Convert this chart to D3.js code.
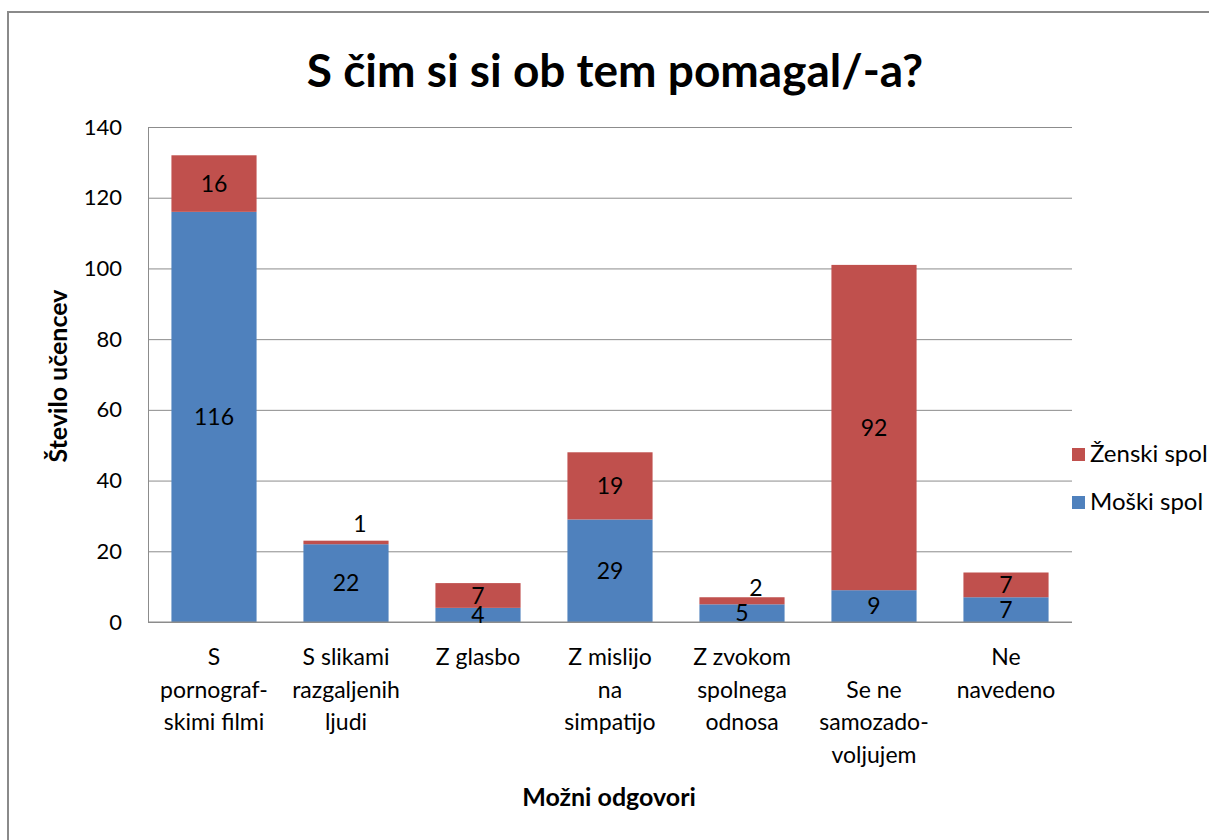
<!DOCTYPE html>
<html>
<head>
<meta charset="utf-8">
<script src="https://cdn.jsdelivr.net/npm/d3@7"></script>
<style>
  body { margin: 0; background: #fff; }
  text { font-family: Lato, "Open Sans", sans-serif; fill: #000; }
</style>
</head>
<body>
<div id="chart"></div>
<script>
const categories = [
    ["S", "pornograf-", "skimi filmi"],
    ["S slikami", "razgaljenih", "ljudi"],
    ["Z glasbo"],
    ["Z mislijo", "na", "simpatijo"],
    ["Z zvokom", "spolnega", "odnosa"],
    ["", "Se ne", "samozado-", "voljujem"],
    ["Ne", "navedeno"]
];
const moski = [116, 22, 4, 29, 5, 9, 7];
const zenski = [16, 1, 7, 19, 2, 92, 7];
const yTicks = [0, 20, 40, 60, 80, 100, 120, 140];
const seriesNames = ["Moški spol", "Ženski spol"];
const colors = { "Moški spol": "#4F81BD", "Ženski spol": "#C0504D" };

const W = 1209, H = 840;
const margin = { top: 127, right: 137, bottom: 218, left: 148 };
const width = W - margin.left - margin.right,
      height = H - margin.top - margin.bottom;

const svg = d3.select("#chart")
    .append("svg")
    .attr("width", W)
    .attr("height", H);

// outer chart border
svg.append("rect")
    .attr("x", 8).attr("y", 12)
    .attr("width", W + 10).attr("height", H + 10)
    .attr("fill", "none")
    .attr("stroke", "#8a8a8a")
    .attr("stroke-width", 2);

svg.append("text")
    .attr("x", 615).attr("y", 87)
    .attr("text-anchor", "middle")
    .style("font-size", "46px")
    .style("font-weight", "bold")
    .text("S čim si si ob tem pomagal/-a?");

const g = svg.append("g")
    .attr("transform", `translate(${margin.left}, ${margin.top})`);

const idx = d3.range(categories.length);
const x = d3.scaleBand()
    .domain(idx)
    .range([0, width]);

const y = d3.scaleLinear()
    .domain([0, 140])
    .range([height, 0]);

// grid
g.append("g")
    .call(d3.axisLeft(y).tickValues(yTicks).tickSize(-width).tickFormat(""))
    .call(s => s.select(".domain").remove())
    .selectAll("line")
    .attr("stroke", "#8c8c8c");

// y axis labels
g.append("g")
    .call(d3.axisLeft(y).tickValues(yTicks).tickSize(0).tickPadding(26))
    .call(s => s.select(".domain").attr("stroke", "#8c8c8c"))
    .selectAll("text")
    .style("font-size", "22px")
    .style("font-family", "Lato, sans-serif")
    .attr("fill", "#000");

const stackData = idx.map(i => ({ i, "Moški spol": moski[i], "Ženski spol": zenski[i] }));
const stacked = d3.stack().keys(seriesNames)(stackData);

const barW = x.bandwidth() * 0.645;

stacked.forEach(layer => {
    g.append("g")
        .selectAll("rect")
        .data(layer)
        .join("rect")
        .attr("x", d => x(d.data.i) + (x.bandwidth() - barW) / 2)
        .attr("y", d => y(d[1]))
        .attr("width", barW)
        .attr("height", d => y(d[0]) - y(d[1]))
        .attr("fill", colors[layer.key]);
});

// x axis baseline
g.append("line")
    .attr("x1", 0).attr("x2", width)
    .attr("y1", height).attr("y2", height)
    .attr("stroke", "#8c8c8c");

// value labels (tiny segments get their label nudged above the bar)
stacked.forEach(layer => {
    g.append("g")
        .selectAll("text")
        .data(layer)
        .join("text")
        .attr("x", d => x(d.data.i) + x.bandwidth() / 2 + ((d[1] - d[0]) < 3 ? 14 : 0))
        .attr("y", d => (d[1] - d[0]) < 3 ? y(d[1]) - 25 + (d[1] - d[0]) * 8 : y((d[0] + d[1]) / 2))
        .attr("dy", "0.35em")
        .attr("text-anchor", "middle")
        .style("font-size", "23px")
        .text(d => d[1] - d[0]);
});

// category labels
const catG = g.append("g");
categories.forEach((lines, i) => {
    lines.forEach((ln, k) => {
        catG.append("text")
            .attr("x", x(i) + x.bandwidth() / 2)
            .attr("y", height + 43 + k * 32.7)
            .attr("text-anchor", "middle")
            .style("font-size", "23px")
            .text(ln);
    });
});

// axis titles
svg.append("text")
    .attr("transform", "translate(67, 376) rotate(-90)")
    .attr("text-anchor", "middle")
    .style("font-size", "25px")
    .style("font-weight", "bold")
    .text("Število učencev");

svg.append("text")
    .attr("x", 609).attr("y", 806)
    .attr("text-anchor", "middle")
    .style("font-size", "25px")
    .style("font-weight", "bold")
    .text("Možni odgovori");

// legend
const legendItems = ["Ženski spol", "Moški spol"];
const legend = svg.append("g").attr("transform", "translate(1072, 448)");
legendItems.forEach((name, k) => {
    legend.append("rect")
        .attr("x", 0).attr("y", k * 48)
        .attr("width", 13).attr("height", 13)
        .attr("fill", colors[name]);
    legend.append("text")
        .attr("x", 18).attr("y", k * 48 + 6)
        .attr("dy", "0.35em")
        .style("font-size", "24px")
        .text(name);
});
</script>
</body>
</html>
